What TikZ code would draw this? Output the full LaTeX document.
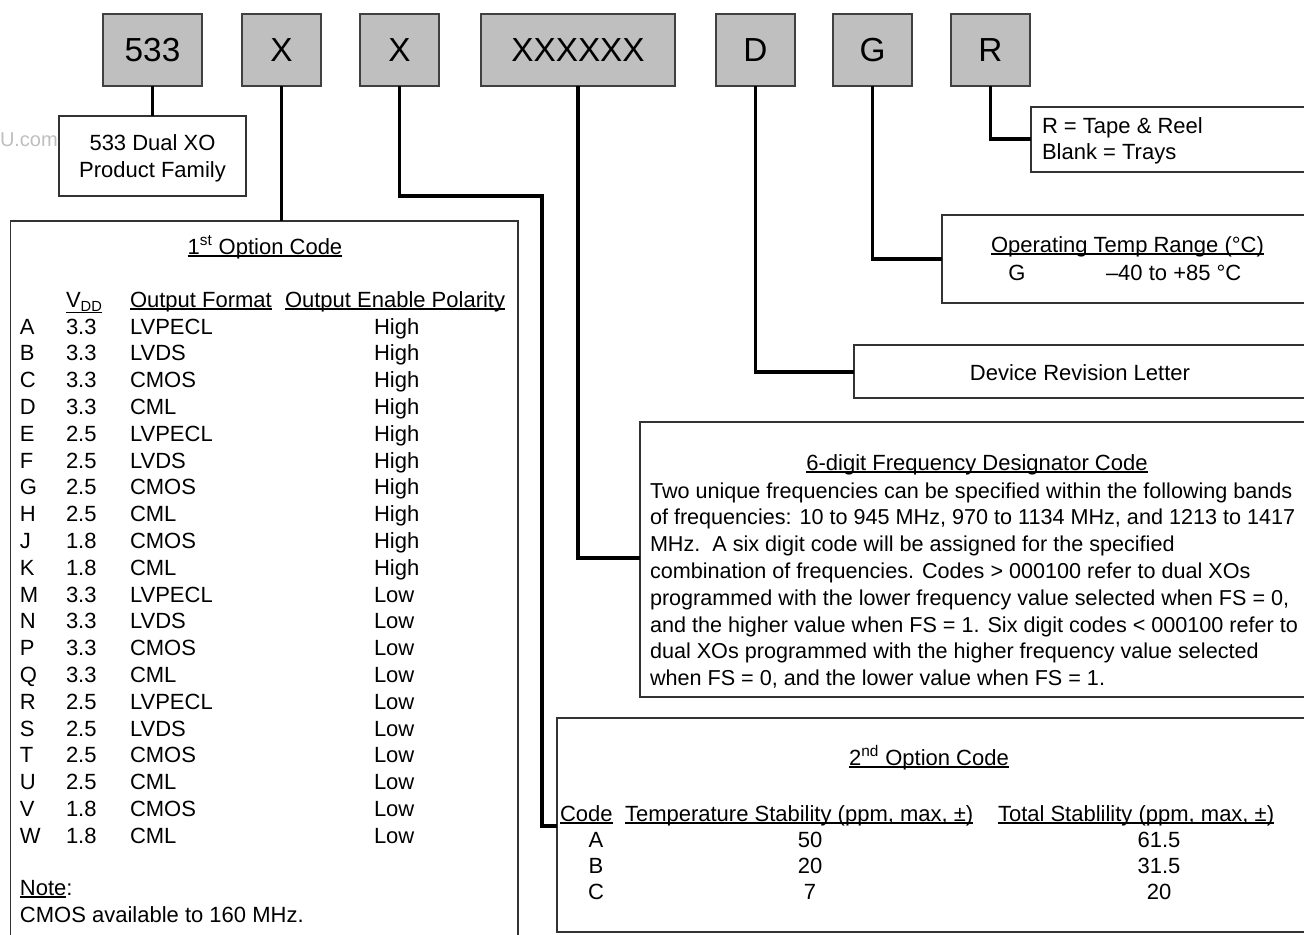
\documentclass[tikz,border=0pt]{standalone}
\usepackage{fontspec}
\setmainfont{Liberation Sans}
\usetikzlibrary{fit}
\newcommand\myul[1]{\setbox0\hbox{#1}\rlap{\rule[-2pt]{\wd0}{0.9pt}}\box0}
\begin{document}
\begin{tikzpicture}[x=0.75pt,y=-0.75pt,
  every node/.style={inner sep=0pt,outer sep=0pt},
  bodyfont/.style={font=\fontsize{16.5}{20}\selectfont},
  codebox/.style={draw=black!75,fill=black!25,line width=0.9pt},
  codetext/.style={font=\fontsize{25}{28}\selectfont,anchor=center},
  infobox/.style={draw=black!80,fill=white,line width=0.9pt},
  conn/.style={line width=2.3pt},
  tl/.style={bodyfont,anchor=base west},
  tc/.style={bodyfont,anchor=base},
  fl/.style={font=\fontsize{16.2}{20}\selectfont,anchor=base west},
]
\clip (0,0) rectangle (1304,935);
\fill[white] (0,0) rectangle (1304,935);

% code boxes
\node[codebox,fit={(103,14)(202,86)}] (b533) {};
\node[codebox,fit={(242,14)(321,86)}] (bX1) {};
\node[codebox,fit={(360,14)(439,86)}] (bX2) {};
\node[codebox,fit={(481,14)(675,86)}] (bXX) {};
\node[codebox,fit={(716,14)(795,86)}] (bD) {};
\node[codebox,fit={(833,14)(912,86)}] (bG) {};
\node[codebox,fit={(951,14)(1030,86)}] (bR) {};
\node[codetext] (l533) at (b533.center) {533};
\node[codetext] (lX1) at (bX1.center) {X};
\node[codetext] (lX2) at (bX2.center) {X};
\node[codetext] (lXX) at (bXX.center) {XXXXXX};
\node[codetext] (lD) at (bD.center) {D};
\node[codetext] (lG) at (bG.center) {G};
\node[codetext] (lR) at (bR.center) {R};

% info boxes
\node[infobox,fit={(59,116)(246,196)}] (fam) {};
\node[infobox,fit={(10.5,221)(518,960)}] (opt1) {};
\node[infobox,fit={(1031,107)(1330,172)}] (rbox) {};
\node[infobox,fit={(942,215)(1330,303)}] (temp) {};
\node[infobox,fit={(854,345)(1330,398)}] (dev) {};
\node[infobox,fit={(640,422)(1330,697)}] (freq) {};
\node[infobox,fit={(557,718)(1330,932)}] (opt2) {};

% connectors
\coordinate (k1) at (542,196);
\coordinate (k2) at (557,826);
\draw[conn] (b533.south) -- (fam.north);
\draw[conn] (bX1.south) -- (bX1.south |- opt1.north);
\draw[conn] (bX2.south) |- (k1) |- (k2);
\draw[conn] (bXX.south) |- (freq.west |- 0,558);
\draw[conn] (bD.south) |- (dev.west |- 0,372);
\draw[conn] (bG.south) |- (temp.west |- 0,259);
\draw[conn] (bR.south) |- (rbox.west |- 0,139);

% watermark
\node[font=\fontsize{15}{18}\selectfont,anchor=base west,text=black!25] (wm) at (0,146) {U.com};

% family box
\node[tc] (fam1) at (152.5,150) {533 Dual XO};
\node[tc] (fam2) at (152.5,177) {Product Family};

% R box
\node[tl] (r1) at (1042,133) {R = Tape \& Reel};
\node[tl] (r2) at (1042,159) {Blank = Trays};

% temp box
\node[tl] (t1) at (991,252) {\myul{Operating Temp Range (°C)}};
\node[tc] (t2) at (1017,280) {G};
\node[tl] (t3) at (1106,280) {–40 to +85 °C};

% device revision
\node[tc] (dv) at (1080,380) {Device Revision Letter};

% frequency box
\node[tc] (fq0) at (977,470) {\myul{6-digit Frequency Designator Code}};
\foreach \t [count=\i] in {
  {Two unique frequencies can be specified within the following bands},
  {of frequencies: 10 to 945 MHz, 970 to 1134 MHz, and 1213 to 1417},
  {MHz.\ \ A six digit code will be assigned for the specified},
  {combination of frequencies. Codes > 000100 refer to dual XOs},
  {programmed with the lower frequency value selected when FS = 0,},
  {and the higher value when FS = 1. Six digit codes < 000100 refer to},
  {dual XOs programmed with the higher frequency value selected},
  {when FS = 0, and the lower value when FS = 1.}}
  \node[fl] (fq\i) at (650,{498+(\i-1)*26.8}) {\t};

% first option code
\node[tc] (o1t) at (265,254) {\myul{1\textsuperscript{st} Option Code}};
\node[tl] (o1h1) at (66,307) {\setbox0\hbox{V\raisebox{-3pt}{\fontsize{11}{11}\selectfont DD}}\rlap{\rule[-4.5pt]{\wd0}{0.9pt}}\box0};
\node[tl] (o1h2) at (130,307) {\myul{Output Format}};
\node[tl] (o1h3) at (285,307) {\myul{Output Enable Polarity}};
\foreach \l/\v/\f/\p [count=\i] in {
  A/3.3/LVPECL/High, B/3.3/LVDS/High, C/3.3/CMOS/High, D/3.3/CML/High,
  E/2.5/LVPECL/High, F/2.5/LVDS/High, G/2.5/CMOS/High, H/2.5/CML/High,
  J/1.8/CMOS/High, K/1.8/CML/High, M/3.3/LVPECL/Low, N/3.3/LVDS/Low,
  P/3.3/CMOS/Low, Q/3.3/CML/Low, R/2.5/LVPECL/Low, S/2.5/LVDS/Low,
  T/2.5/CMOS/Low, U/2.5/CML/Low, V/1.8/CMOS/Low, W/1.8/CML/Low} {
  \node[tl] (ra\i) at (20,{334+(\i-1)*26.8}) {\l};
  \node[tl] (rb\i) at (66,{334+(\i-1)*26.8}) {\v};
  \node[tl] (rc\i) at (130,{334+(\i-1)*26.8}) {\f};
  \node[tl] (rd\i) at (374,{334+(\i-1)*26.8}) {\p};
}
\node[tl] (n1) at (20,895) {\myul{Note}:};
\node[tl] (n2) at (20,922) {CMOS available to 160 MHz.};

% second option code
\node[tc] (o2t) at (929,765) {\myul{2\textsuperscript{nd} Option Code}};
\node[tl] (o2h1) at (560,821) {\myul{Code}};
\node[tl] (o2h2) at (625,821) {\myul{Temperature Stability (ppm, max, ±)}};
\node[tl] (o2h3) at (998,821) {\myul{Total Stablility (ppm, max, ±)}};
\foreach \c/\a/\b [count=\i] in {A/50/61.5, B/20/31.5, C/7/20} {
  \node[tc] (sa\i) at (596,{847+(\i-1)*26.3}) {\c};
  \node[tc] (sb\i) at (810,{847+(\i-1)*26.3}) {\a};
  \node[tc] (sc\i) at (1159,{847+(\i-1)*26.3}) {\b};
}
\end{tikzpicture}
\end{document}
